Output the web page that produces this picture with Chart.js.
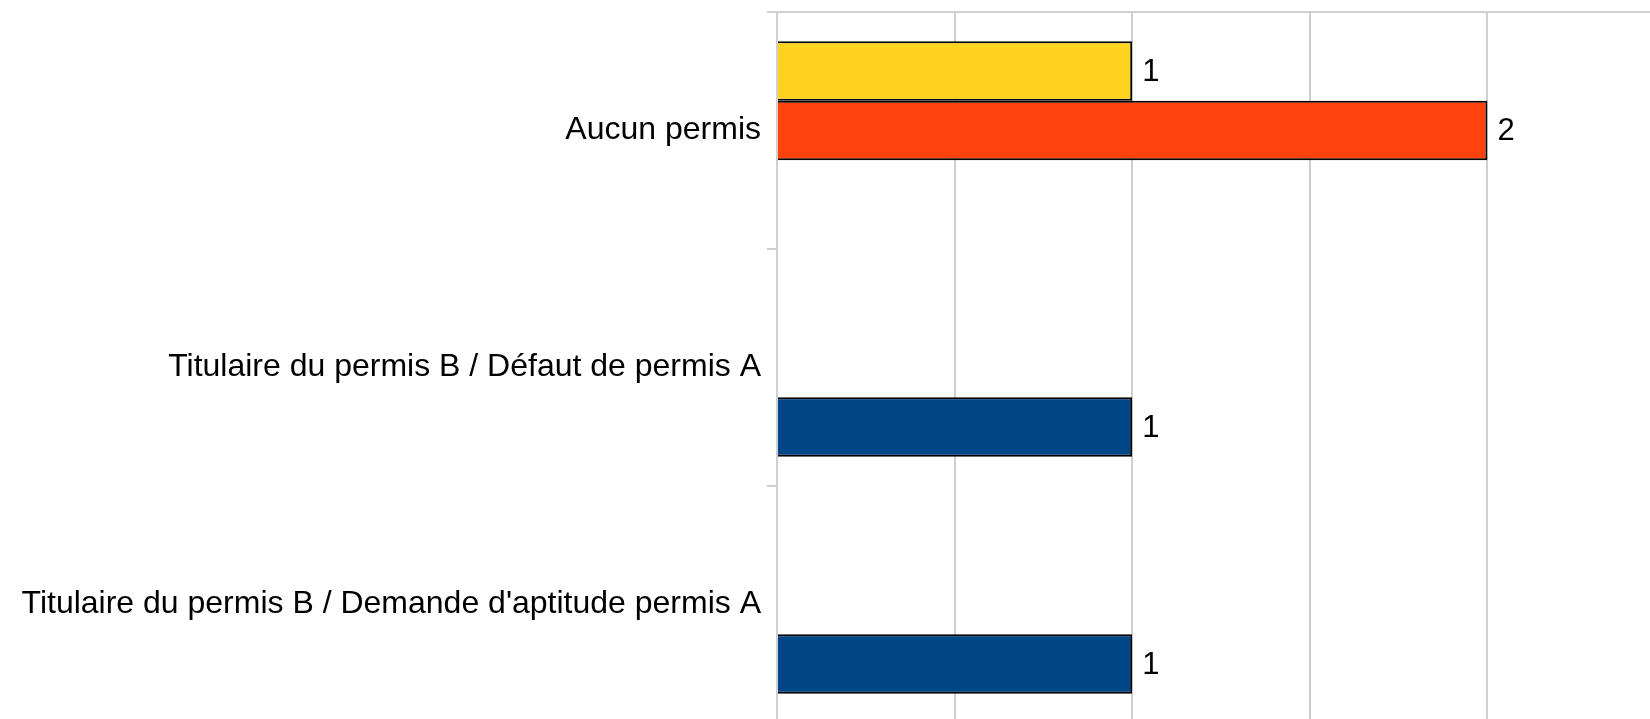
<!DOCTYPE html>
<html>
<head>
<meta charset="utf-8">
<script src="https://cdn.jsdelivr.net/npm/chart.js@4/dist/chart.umd.min.js"></script>
<style>
  html, body { margin: 0; padding: 0; background: #fff; overflow: hidden; }
  #myChart { position: absolute; left: 0; top: 0; }
</style>
</head>
<body>
<canvas id="myChart" width="1666" height="724"></canvas>
<script>
'use strict'

const categories = [
    'Aucun permis',
    'Titulaire du permis B / Défaut de permis A',
    'Titulaire du permis B / Demande d\'aptitude permis A'
];
const seriesNames = ['Série 1', 'Série 2', 'Série 3'];
const yellowValues = [1, null, null];
const orangeValues = [2, null, null];
const blueValues = [null, 1, 1];
const xTicks = [0, 0.5, 1, 1.5, 2, 2.5];

const gridColor = '#cfcfcf';

// writes the value just right of each bar
const valueLabels = {
    id: 'valueLabels',
    afterDatasetsDraw(chart) {
        const ctx = chart.ctx;
        ctx.save();
        ctx.font = '31px "Liberation Sans", Arial, sans-serif';
        ctx.fillStyle = '#000';
        ctx.textAlign = 'left';
        ctx.textBaseline = 'middle';
        chart.data.datasets.forEach(function(ds, i) {
            const meta = chart.getDatasetMeta(i);
            meta.data.forEach(function(bar, j) {
                if (ds.data[j] === null) return;
                ctx.fillText(String(ds.data[j]), bar.x + 10, bar.y + 1);
            });
        });
        ctx.restore();
    }
};

const ctx = document.getElementById('myChart').getContext('2d');

const myChart = new Chart(ctx, {
    type: 'bar',
    data: {
        labels: categories,
        datasets: [
            {
                label: seriesNames[0],
                data: yellowValues,
                backgroundColor: '#ffd320',
                borderColor: '#000',
                borderWidth: 2
            },
            {
                label: seriesNames[1],
                data: orangeValues,
                backgroundColor: '#ff420e',
                borderColor: '#000',
                borderWidth: 2
            },
            {
                label: seriesNames[2],
                data: blueValues,
                backgroundColor: '#004586',
                borderColor: '#000',
                borderWidth: 2
            }
        ]
    },
    options: {
        indexAxis: 'y',
        responsive: false,
        animation: false,
        layout: { padding: { top: 12, right: 1, bottom: 1, left: 0 } },
        categoryPercentage: 0.753,
        barPercentage: 1,
        plugins: {
            legend: { display: false },
            tooltip: { enabled: false }
        },
        scales: {
            x: {
                min: 0,
                max: 2.5,
                afterBuildTicks(scale) {
                    scale.ticks = xTicks.map(function(v) { return { value: v }; });
                },
                ticks: { display: false },
                grid: { color: gridColor, lineWidth: 2, drawTicks: false },
                border: { display: false },
                afterFit(scale) { scale.height = 0; }
            },
            x2: {
                position: 'top',
                min: 0,
                max: 2.5,
                ticks: { display: false },
                grid: { display: false },
                border: { display: true, color: gridColor, width: 2 },
                afterFit(scale) { scale.height = 0; }
            },
            y: {
                offset: true,
                ticks: {
                    color: '#000',
                    padding: 6,
                    font: { family: '"Liberation Sans", Arial, sans-serif', size: 32 }
                },
                grid: {
                    offset: true,
                    drawOnChartArea: false,
                    drawTicks: true,
                    tickLength: 10,
                    color: gridColor,
                    lineWidth: 2
                },
                border: { display: true, color: gridColor, width: 2 },
                afterFit(scale) {
                    scale.width = 777;
                    scale.paddingTop = 0;
                    scale.paddingBottom = 0;
                }
            }
        }
    },
    plugins: [valueLabels]
});
</script>
</body>
</html>
